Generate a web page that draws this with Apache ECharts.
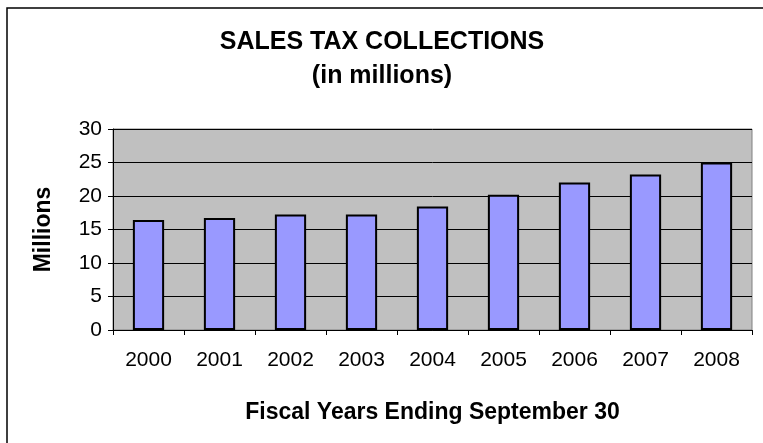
<!DOCTYPE html>
<html>
<head>
<meta charset="utf-8">
<script src="https://cdn.jsdelivr.net/npm/echarts@6/dist/echarts.min.js"></script>
<style>html,body{margin:0;padding:0;background:#fff}#c{width:763px;height:443px}</style>
</head>
<body>
<div id="c"></div>
<script>
const categories = ['2000','2001','2002','2003','2004','2005','2006','2007','2008'];
const salesTax = [16.4, 16.7, 17.25, 17.25, 18.45, 20.2, 22.0, 23.2, 25.0];
const yTicks = [0, 5, 10, 15, 20, 25, 30];

const chart = echarts.init(document.getElementById('c'), null, {renderer: 'canvas'});
const font = '"Liberation Sans", Arial, sans-serif';
chart.setOption({
  animation: false,
  backgroundColor: '#fff',
  graphic: [{
    type: 'rect', shape: {x: 7, y: 8, width: 900, height: 600},
    style: {fill: 'none', stroke: '#000', lineWidth: 1.5}, silent: true
  }],
  title: {
    text: 'SALES TAX COLLECTIONS\n(in millions)',
    left: 377, top: 20, textAlign: 'center',
    textStyle: {fontFamily: font, fontWeight: 'bold', fontSize: 25, color: '#000', lineHeight: 34}
  },
  grid: {left: 113, right: 11, top: 129, bottom: 113, show: true, backgroundColor: '#C0C0C0', borderColor: '#808080', borderWidth: 1},
  xAxis: {
    type: 'category', data: categories, boundaryGap: true,
    name: 'Fiscal Years Ending September 30', nameLocation: 'middle', nameGap: 71,
    nameTextStyle: {fontFamily: font, fontWeight: 'bold', fontSize: 23, color: '#000'},
    axisLine: {lineStyle: {color: '#000', width: 1}},
    axisTick: {show: true, inside: false, length: 5, alignWithLabel: false, lineStyle: {color: '#000'}},
    axisLabel: {fontFamily: font, fontSize: 21, color: '#000', margin: 20},
    splitLine: {show: false}
  },
  yAxis: {
    type: 'value', min: yTicks[0], max: yTicks[yTicks.length-1], interval: 5,
    name: 'Millions', nameLocation: 'middle', nameGap: 58, nameRotate: 90,
    nameTextStyle: {fontFamily: font, fontWeight: 'bold', fontSize: 23, color: '#000'},
    axisLine: {show: true, lineStyle: {color: '#000', width: 1}},
    axisTick: {show: true, inside: false, length: 5, lineStyle: {color: '#000'}},
    axisLabel: {fontFamily: font, fontSize: 21, color: '#000', margin: 11},
    splitLine: {show: true, lineStyle: {color: '#000', width: 1}}
  },
  series: [{
    type: 'bar', data: salesTax, barWidth: '44%',
    itemStyle: {color: '#9999FF', borderColor: '#000', borderWidth: 2},
    label: {show: false}
  }]
});
</script>
</body>
</html>
